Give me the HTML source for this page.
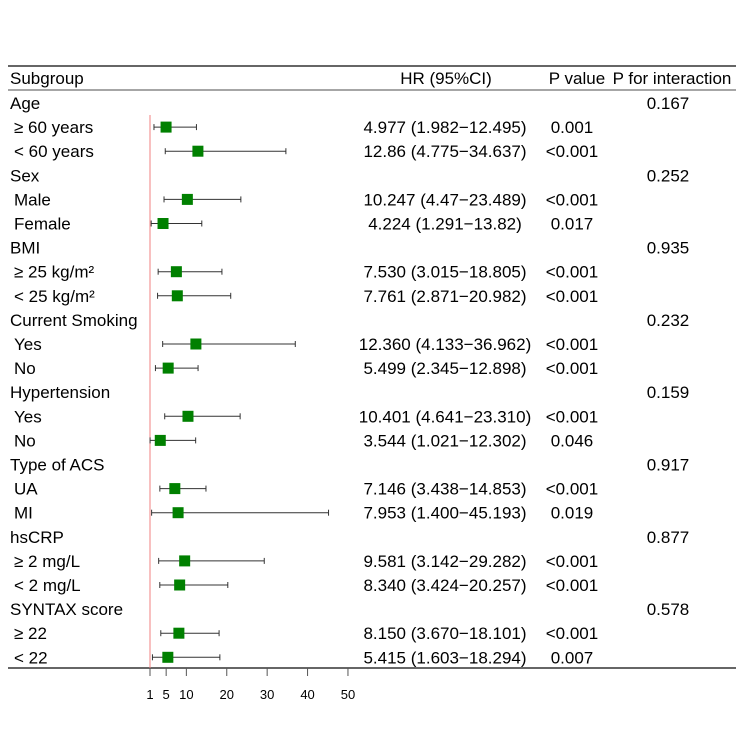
<!DOCTYPE html>
<html><head><meta charset="utf-8"><style>
body{margin:0;background:#fff;}
svg text{font-family:"Liberation Sans",Arial,sans-serif;font-size:17px;fill:#000;}
</style></head><body>
<svg id="c" width="744" height="744" xmlns="http://www.w3.org/2000/svg"></svg>
<script>
const labels=["Age"," ≥ 60 years"," < 60 years","Sex"," Male"," Female","BMI"," ≥ 25 kg/m²"," < 25 kg/m²","Current Smoking"," Yes"," No","Hypertension"," Yes"," No","Type of ACS"," UA"," MI","hsCRP"," ≥ 2 mg/L"," < 2 mg/L","SYNTAX score"," ≥ 22"," < 22"];
const hr=[null,4.977,12.86,null,10.247,4.224,null,7.530,7.761,null,12.360,5.499,null,10.401,3.544,null,7.146,7.953,null,9.581,8.340,null,8.150,5.415];
const lo=[null,1.982,4.775,null,4.47,1.291,null,3.015,2.871,null,4.133,2.345,null,4.641,1.021,null,3.438,1.400,null,3.142,3.424,null,3.670,1.603];
const hi=[null,12.495,34.637,null,23.489,13.82,null,18.805,20.982,null,36.962,12.898,null,23.310,12.302,null,14.853,45.193,null,29.282,20.257,null,18.101,18.294];
const hrText=["","4.977 (1.982−12.495)","12.86 (4.775−34.637)","","10.247 (4.47−23.489)","4.224 (1.291−13.82)","","7.530 (3.015−18.805)","7.761 (2.871−20.982)","","12.360 (4.133−36.962)","5.499 (2.345−12.898)","","10.401 (4.641−23.310)","3.544 (1.021−12.302)","","7.146 (3.438−14.853)","7.953 (1.400−45.193)","","9.581 (3.142−29.282)","8.340 (3.424−20.257)","","8.150 (3.670−18.101)","5.415 (1.603−18.294)"];
const pText=["","0.001","<0.001","","<0.001","0.017","","<0.001","<0.001","","<0.001","<0.001","","<0.001","0.046","","<0.001","0.019","","<0.001","<0.001","","<0.001","0.007"];
const pInt=["0.167","","","0.252","","","0.935","","","0.232","","","0.159","","","0.917","","","0.877","","","0.578","",""];
const ticks=[1,5,10,20,30,40,50];
const svg=document.getElementById('c');const NS='http://www.w3.org/2000/svg';
function x(v){return 150+(v-1)*4.04;}
function y(i){return 103+i*24.1;}
function mk(t,a,txt){const e=document.createElementNS(NS,t);for(const k in a)e.setAttribute(k,a[k]);if(txt!==undefined)e.textContent=txt;svg.appendChild(e);return e;}
let e;
e=mk('line',{x1:8,x2:736,y1:66,y2:66,stroke:'#666','stroke-width':2});
e=mk('line',{x1:8,x2:736,y1:90,y2:90,stroke:'#888','stroke-width':1.5});
e=mk('line',{x1:8,x2:736,y1:668,y2:668,stroke:'#666','stroke-width':2});
e=mk('text',{x:10,y:84},'Subgroup');
e=mk('text',{x:446,y:84,'text-anchor':'middle'},'HR (95%CI)');
e=mk('text',{x:577,y:84,'text-anchor':'middle'},'P value');
e=mk('text',{x:672,y:84,'text-anchor':'middle'},'P for interaction');
e=mk('line',{x1:x(1),x2:x(1),y1:115,y2:668,stroke:'#f08080','stroke-width':1});
labels.forEach((l,i)=>{
 const yy=y(i);
 e=mk('text',{x:l.startsWith(' ')?14:10,y:yy+6},l.trim());
 if(hrText[i]){e=mk('text',{x:445,y:yy+6,'text-anchor':'middle'},hrText[i]);}
 if(pText[i]){e=mk('text',{x:572,y:yy+6,'text-anchor':'middle'},pText[i]);}
 if(pInt[i]){e=mk('text',{x:668,y:yy+6,'text-anchor':'middle'},pInt[i]);}
 if(hr[i]!==null){
  const g=document.createElementNS(NS,'g');svg.appendChild(g);
  
  const add=(t,a)=>{const q=document.createElementNS(NS,t);for(const k in a)q.setAttribute(k,a[k]);g.appendChild(q);return q;};
  add('line',{x1:x(lo[i]),x2:x(hi[i]),y1:yy,y2:yy,stroke:'#333','stroke-width':1});
  add('line',{x1:x(lo[i]),x2:x(lo[i]),y1:yy-3,y2:yy+3,stroke:'#333','stroke-width':1});
  add('line',{x1:x(hi[i]),x2:x(hi[i]),y1:yy-3,y2:yy+3,stroke:'#333','stroke-width':1});
  const r=add('rect',{x:x(hr[i])-5.5,y:yy-5.5,width:11,height:11,fill:'#008000'});
  
 }
});
ticks.forEach(t=>{
 e=mk('line',{x1:x(t),x2:x(t),y1:668,y2:676,stroke:'#555','stroke-width':1});
 e=mk('text',{x:x(t),y:699,'text-anchor':'middle','style':'font-size:13px'},String(t));
});
</script>
</body></html>
